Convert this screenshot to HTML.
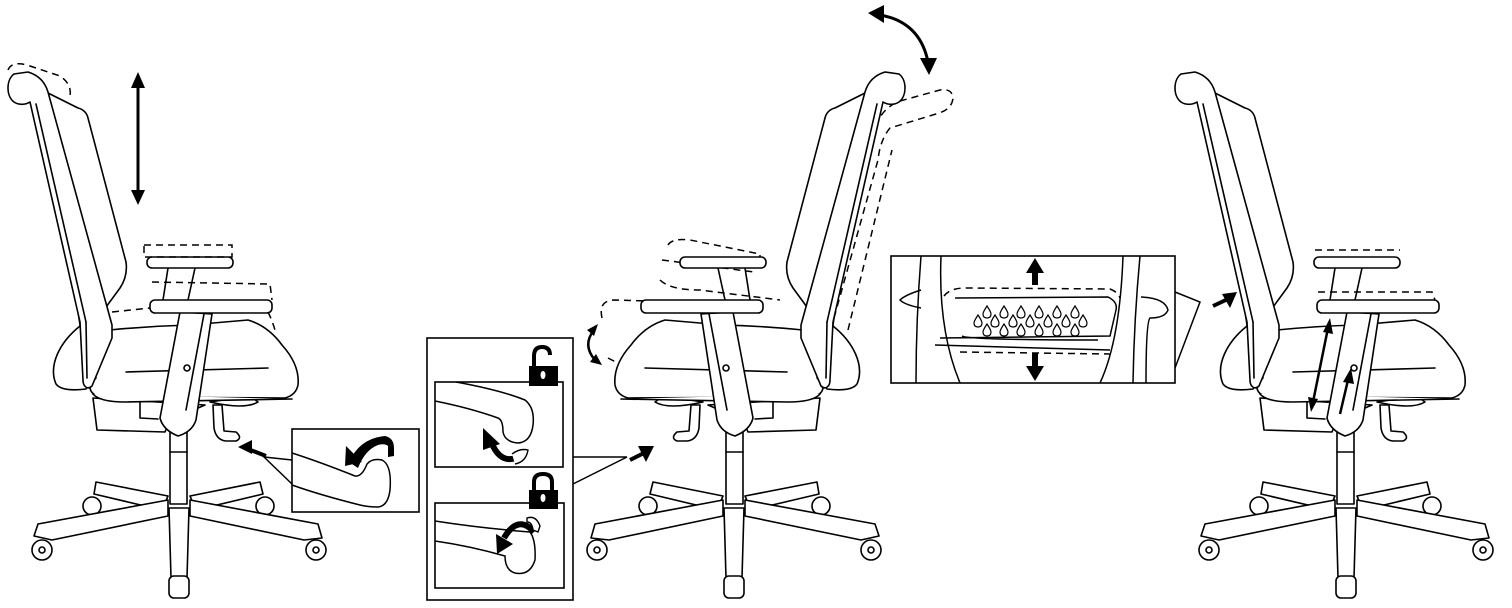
<!DOCTYPE html>
<html><head><meta charset="utf-8"><style>
html,body{margin:0;padding:0;background:#fff;}
svg{display:block;}
</style></head><body>
<svg width="1512" height="608" viewBox="0 0 1512 608" xmlns="http://www.w3.org/2000/svg">
<defs>
<g id="chair" fill="#fff" stroke="#000" stroke-width="1.6" stroke-linejoin="round" stroke-linecap="round">
  <circle cx="92" cy="506" r="9"/>
  <circle cx="265" cy="506" r="9"/>
  <polygon points="168,496 96,482 94,494 162,510"/>
  <polygon points="190,496 260,482 263,494 196,510"/>
  <rect x="170" y="432" width="17" height="72"/>
  <line x1="170" y1="452" x2="187" y2="452"/>
  <polygon points="168,500 38,524 34,536 52,540 168,516"/>
  <polygon points="190,500 318,524 322,538 304,540 190,516"/>
  <polygon points="169,508 171,578 187,578 189,508"/>
  <circle cx="42" cy="550" r="10"/>
  <circle cx="42" cy="550" r="3"/>
  <circle cx="316" cy="550" r="10"/>
  <circle cx="316" cy="550" r="3"/>
  <rect x="169" y="576" width="20" height="22" rx="5"/>
  <path d="M93,398 L97,430 L165,432 L170,420 L205,405 Z"/>
  <path d="M140,402 L140,418 L158,419"/>
  <path d="M210,402 Q245,410 258,402 L250,396 Z"/>
  <path d="M213,405 L214,428 Q216,440 226,441 L236,441 Q243,438 236,432 L224,431 L222,405 Z"/>
  <path d="M110,330 Q150,326 190,325 L248,320 Q268,326 282,345 Q300,365 298,385 Q296,395 285,398 L100,397 Q90,394 90,387 Z"/>
  <path d="M93,394 Q100,402 125,402 L292,399"/>
  <line x1="126" y1="372" x2="268" y2="368"/>
  <path d="M46,92 L78,108 Q86,110 88,118 L126,262 Q128,276 120,288 L98,318 L80,325 Z"/>
  <path d="M80,326 C60,342 48,365 56,384 Q62,392 86,389 L96,378 Z"/>
  <path d="M14,74 C6,80 6,96 14,102 C20,106 27,104 30,102 L80,322 L83,380 C83,387 88,390 92,386 L112,338 L112,325 L48,92 C45,82 38,75 28,72 Z"/>
  <line x1="36" y1="104" x2="86" y2="322"/>
  <line x1="86" y1="322" x2="87" y2="378"/>
  <path d="M168,268 L163,300 M195,268 L188,300"/>
  <rect x="147" y="257" width="86" height="11" rx="5"/>
  <path d="M180,312 L160,418 Q163,430 178,436 Q192,432 196,420 L212,314 Z"/>
  <line x1="204" y1="314" x2="186" y2="410"/>
  <circle cx="187" cy="368" r="3"/>
  <rect x="150" y="300" width="122" height="13" rx="5"/>
</g>
</defs>

<use href="#chair"/>
<g fill="none" stroke="#000" stroke-width="1.5" stroke-dasharray="7,5">
  <path d="M8,70 Q12,60 30,66 L60,76 Q72,84 70,96"/>
  <rect x="144" y="245" width="88" height="12"/>
  <path d="M152,282 L270,284 L272,300 M268,312 Q272,320 275,330"/>
  <path d="M112,312 L150,308"/>
</g>
<line x1="138" y1="82" x2="138" y2="196" stroke="#000" stroke-width="3"/>
<polygon points="138,72 131,88 145,88" fill="#000"/>
<polygon points="138,205 131,190 145,190" fill="#000"/>
<rect x="292" y="429" width="127" height="83" fill="#fff" stroke="#000" stroke-width="1.6"/>
<g fill="none" stroke="#000" stroke-width="1.5">
  <path d="M292,453 Q320,462 355,476 Q362,477 367,464 Q372,458 382,460 Q392,465 390,490 Q388,506 378,507 Q368,507 360,505 Q320,495 292,485"/>
  <path d="M292,460 L264,457 L292,484"/>
</g>
<path d="M349,462 Q360,438 385,436 Q394,438 394,448 L394,456 L388,457 L388,446 Q385,443 378,445 Q365,450 358,468 Z" fill="#000"/>
<polygon points="345,466 346,446 362,462" fill="#000"/>
<polygon points="238,447 252,440 252,454" fill="#000"/>
<line x1="248" y1="449" x2="266" y2="456" stroke="#000" stroke-width="4"/>

<g fill="none" stroke="#000" stroke-width="1.5" stroke-dasharray="7,5">
  <path d="M834,318 L878,160 Q880,140 890,128 L936,114 Q952,110 953,98 Q952,88 940,90 L900,101 Q882,108 876,126 L822,318"/>
  <path d="M848,330 L892,150"/>
  <path d="M602,318 Q598,300 615,300 L680,302 Q720,316 780,345 L805,360 Q818,372 815,390"/>
  <path d="M608,358 Q640,375 680,380 L750,408 M640,370 Q660,396 700,400"/>
  <path d="M668,245 Q672,238 690,240 L760,254 L760,262 M662,260 L754,272 M660,280 Q670,290 700,290 L780,300"/>
  <path d="M720,340 L722,410 L745,430"/>
</g>
<use href="#chair" transform="translate(913,0) scale(-1,1)"/>
<path d="M880,15 Q920,22 928,62" fill="none" stroke="#000" stroke-width="3"/>
<polygon points="868,13 884,5 884,23" fill="#000"/>
<polygon points="929,75 920,58 937,58" fill="#000"/>
<path d="M594,330 Q582,345 595,360" fill="none" stroke="#000" stroke-width="2.5"/>
<polygon points="598,324 587,330 594,336" fill="#000"/>
<polygon points="602,365 590,362 596,354" fill="#000"/>
<rect x="427" y="338" width="146" height="262" fill="#fff" stroke="#000" stroke-width="1.6"/>
<rect x="435" y="382" width="128" height="85" fill="#fff" stroke="#000" stroke-width="1.6"/>
<rect x="435" y="503" width="129" height="85" fill="#fff" stroke="#000" stroke-width="1.6"/>
<g fill="none" stroke="#000" stroke-width="1.5">
  <path d="M456,382 Q500,390 525,400 Q535,408 533,425 Q531,442 518,443 Q505,442 503,432 Q503,420 498,418 Q470,408 435,401"/>
  <path d="M435,521 Q480,528 530,532 Q536,540 535,560 Q530,576 515,573 Q505,570 505,556 Q470,546 435,541"/>
  <path d="M573,457 L627,457 M573,484 L627,457"/>
</g>
<path d="M520,456 Q502,466 492,444" fill="none" stroke="#000" stroke-width="6"/>
<polygon points="483,428 500,444 483,450" fill="#000"/>
<path d="M512,454 Q520,448 528,450 Q526,462 515,464" fill="#fff" stroke="#000" stroke-width="1.4"/>
<path d="M534,532 Q518,514 504,538" fill="none" stroke="#000" stroke-width="6"/>
<polygon points="497,554 496,534 513,544" fill="#000"/>
<path d="M527,518 Q536,515 540,526 L538,532 L533,530 Q532,522 527,522 Z" fill="#fff" stroke="#000" stroke-width="1.4"/>
<rect x="529" y="366" width="29" height="20" fill="#000"/>
<path d="M534,366 L534,356 Q534,347 542,347 Q550,347 550,355" fill="none" stroke="#000" stroke-width="4"/>
<ellipse cx="543" cy="375" rx="2.5" ry="4" fill="#fff"/>
<rect x="529" y="490" width="29" height="19" fill="#000"/>
<path d="M534,490 L534,482 Q534,474 543,474 Q552,474 552,482 L552,490" fill="none" stroke="#000" stroke-width="4"/>
<ellipse cx="543" cy="498" rx="2.5" ry="4" fill="#fff"/>
<polygon points="654,446 638,446 646,462" fill="#000"/>
<line x1="630" y1="460" x2="646" y2="452" stroke="#000" stroke-width="4"/>

<use href="#chair" transform="translate(1167,0)"/>
<g fill="none" stroke="#000" stroke-width="1.5" stroke-dasharray="7,5">
  <line x1="1315" y1="250" x2="1400" y2="250"/>
  <path d="M1318,292 L1432,292 L1435,300"/>
</g>
<line x1="1328" y1="328" x2="1313" y2="402" stroke="#000" stroke-width="2.5"/>
<polygon points="1330,318 1323,332 1333,334" fill="#000"/>
<polygon points="1311,412 1308,397 1318,399" fill="#000"/>
<line x1="1340" y1="414" x2="1348" y2="380" stroke="#000" stroke-width="2.5"/>
<polygon points="1351,368 1343,382 1354,384" fill="#000"/>
<rect x="891" y="256" width="284" height="127" fill="#fff" stroke="#000" stroke-width="1.6"/>
<g fill="none" stroke="#000" stroke-width="1.5">
  <path d="M921,256 Q916,320 916,383 M941,256 Q938,330 960,383"/>
  <path d="M1123,256 Q1120,340 1100,383 M1140,256 Q1134,320 1133,383"/>
  <path d="M921,290 Q905,295 900,300 Q905,305 921,308"/>
  <path d="M1141,297 Q1165,298 1168,310 Q1165,318 1150,318 Q1146,322 1146,383"/>
  <path d="M1175,292 L1200,302 L1175,368"/>
  <path d="M955,298 L1108,297 Q1118,302 1116,310 L1110,336 L940,338 M962,336 Q968,340 1098,340"/>
  <path d="M935,345 Q1010,347 1110,350"/>
</g>
<g fill="none" stroke="#000" stroke-width="1.5" stroke-dasharray="7,5">
  <path d="M944,296 Q950,288 965,288 L1110,289 Q1118,292 1120,298"/>
  <path d="M960,352 L1110,354"/>
</g>
<g fill="#fff" stroke="#000" stroke-width="1.2">
<path id="dr" d="M987,306 Q983,312 983,314 Q983,318 987,318 Q991,318 991,314 Q991,312 987,306 Z"/>
<use href="#dr" x="17"/><use href="#dr" x="34"/><use href="#dr" x="52"/><use href="#dr" x="70"/><use href="#dr" x="88"/>
<use href="#dr" x="-9" y="9"/><use href="#dr" x="8" y="9"/><use href="#dr" x="26" y="9"/><use href="#dr" x="43" y="9"/><use href="#dr" x="61" y="9"/><use href="#dr" x="79" y="9"/><use href="#dr" x="96" y="9"/>
<use href="#dr" x="0" y="18"/><use href="#dr" x="17" y="18"/><use href="#dr" x="34" y="18"/><use href="#dr" x="52" y="18"/><use href="#dr" x="70" y="18"/><use href="#dr" x="88" y="18"/>
</g>
<rect x="1032" y="272" width="6" height="13" fill="#000"/>
<polygon points="1035,258 1026,273 1044,273" fill="#000"/>
<rect x="1032" y="353" width="6" height="13" fill="#000"/>
<polygon points="1035,381 1026,366 1044,366" fill="#000"/>
<polygon points="1237,292 1222,294 1230,308" fill="#000"/>
<line x1="1213" y1="306" x2="1228" y2="299" stroke="#000" stroke-width="4"/>
</svg>
</body></html>
